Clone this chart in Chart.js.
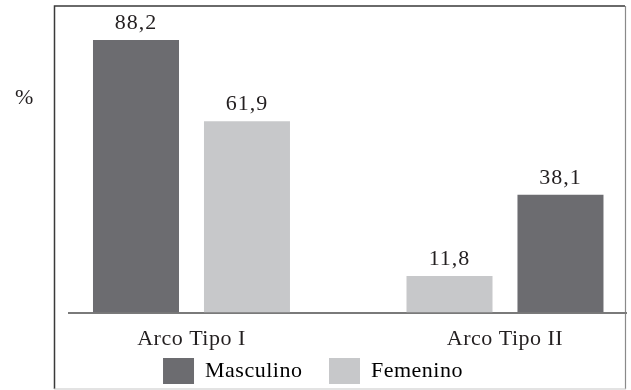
<!DOCTYPE html>
<html>
<head>
<meta charset="utf-8">
<script src="https://cdn.jsdelivr.net/npm/chart.js@4/dist/chart.umd.min.js"></script>
<style>
  html, body { margin: 0; padding: 0; background: #ffffff; }
  #wrap { width: 631px; height: 390px; }
</style>
</head>
<body>
<div id="wrap"><canvas id="chart" width="631" height="390"></canvas></div>
<script>
// Categories and series (percentages)
const categories = ['Arco Tipo I', 'Arco Tipo II'];
const seriesNames = ['Masculino', 'Femenino'];
const masculino = [88.2, 11.8];
const femenino = [61.9, 38.1];

// Styling
const DARK = '#6c6c70';
const LIGHT = '#c7c8ca';
const TEXT = '#231f20';
const FONT = "'Liberation Serif', 'Times New Roman', serif";
const SPACING = '0.5px';

// Bar fills per category (the second group swaps the shades)
const masculinoFill = [DARK, LIGHT];
const femeninoFill = [LIGHT, DARK];
const legendFill = [DARK, LIGHT];

const fmt = v => v.toFixed(1).replace('.', ',');

const textSpacing = {
  id: 'textSpacing',
  beforeUpdate(chart) { chart.ctx.letterSpacing = SPACING; },
  beforeDraw(chart) { chart.ctx.letterSpacing = SPACING; }
};

// Outer frame and the "%" unit label
const frame = {
  id: 'frame',
  beforeDraw(chart) {
    const ctx = chart.ctx;
    ctx.save();
    ctx.fillStyle = '#ffffff';
    ctx.fillRect(0, 0, chart.width, chart.height);
    ctx.lineWidth = 1.5;
    ctx.strokeStyle = '#3a3a3a';
    ctx.beginPath();
    ctx.moveTo(54.5, 389); ctx.lineTo(54.5, 6); ctx.lineTo(625, 6);
    ctx.stroke();
    ctx.lineWidth = 1.2;
    ctx.strokeStyle = '#8a8a8a';
    ctx.beginPath();
    ctx.moveTo(625.5, 6); ctx.lineTo(625.5, 389);
    ctx.stroke();
    ctx.strokeStyle = '#c8c8c8';
    ctx.beginPath();
    ctx.moveTo(54, 389); ctx.lineTo(626, 389);
    ctx.stroke();
    ctx.fillStyle = TEXT;
    ctx.font = '22px ' + FONT;
    ctx.textAlign = 'center';
    ctx.textBaseline = 'alphabetic';
    ctx.fillText('%', 24.5, 104);
    ctx.restore();
  }
};

// Value labels above each bar
const valueLabels = {
  id: 'valueLabels',
  afterDatasetsDraw(chart) {
    const ctx = chart.ctx;
    ctx.save();
    ctx.fillStyle = TEXT;
    ctx.font = '22px ' + FONT;
    ctx.letterSpacing = '1px';
    ctx.textAlign = 'center';
    ctx.textBaseline = 'alphabetic';
    chart.data.datasets.forEach((ds, di) => {
      chart.getDatasetMeta(di).data.forEach((el, i) => {
        ctx.fillText(fmt(ds.data[i].y), el.x, el.y - 11);
      });
    });
    ctx.restore();
  }
};

const toPoints = vals => categories.map((c, i) => ({ x: i, y: vals[i] }));

new Chart(document.getElementById('chart'), {
  type: 'bar',
  data: {
    datasets: [
      { label: seriesNames[0], data: toPoints(masculino), backgroundColor: masculinoFill },
      { label: seriesNames[1], data: toPoints(femenino), backgroundColor: femeninoFill }
    ]
  },
  plugins: [textSpacing, frame, valueLabels],
  options: {
    responsive: false,
    animation: false,
    devicePixelRatio: 1,
    categoryPercentage: 0.708,
    barPercentage: 0.775,
    layout: { padding: { top: 3.5, right: 5, bottom: 0, left: 0 } },
    scales: {
      x: {
        type: 'linear',
        min: -0.3907,
        max: 1.386,
        offset: false,
        grid: { display: false, drawTicks: false, offset: false },
        border: { display: true, color: '#7a7a7a', width: 2 },
        ticks: {
          stepSize: 1,
          includeBounds: false,
          autoSkip: false,
          maxRotation: 0,
          mirror: true,
          padding: -40.3,
          color: TEXT,
          font: { family: FONT, size: 22 },
          callback: v => (Number.isInteger(v) && categories[v] !== undefined) ? categories[v] : ''
        },
        afterFit: s => { s.height = 18.9; }
      },
      y: {
        min: 0,
        max: 100,
        grid: { display: false, drawTicks: false },
        border: { display: false },
        ticks: { display: false },
        afterFit: s => { s.width = 69; }
      }
    },
    plugins: {
      legend: {
        position: 'bottom',
        maxHeight: 58.6,
        labels: {
          boxWidth: 31,
          boxHeight: 26,
          padding: 26.6,
          color: TEXT,
          font: { family: FONT, size: 22 },
          generateLabels: () => seriesNames.map((name, i) => ({
            text: name,
            fillStyle: legendFill[i],
            strokeStyle: legendFill[i],
            lineWidth: 0,
            hidden: false,
            datasetIndex: i
          }))
        }
      },
      tooltip: { enabled: false }
    }
  }
});
</script>
</body>
</html>
